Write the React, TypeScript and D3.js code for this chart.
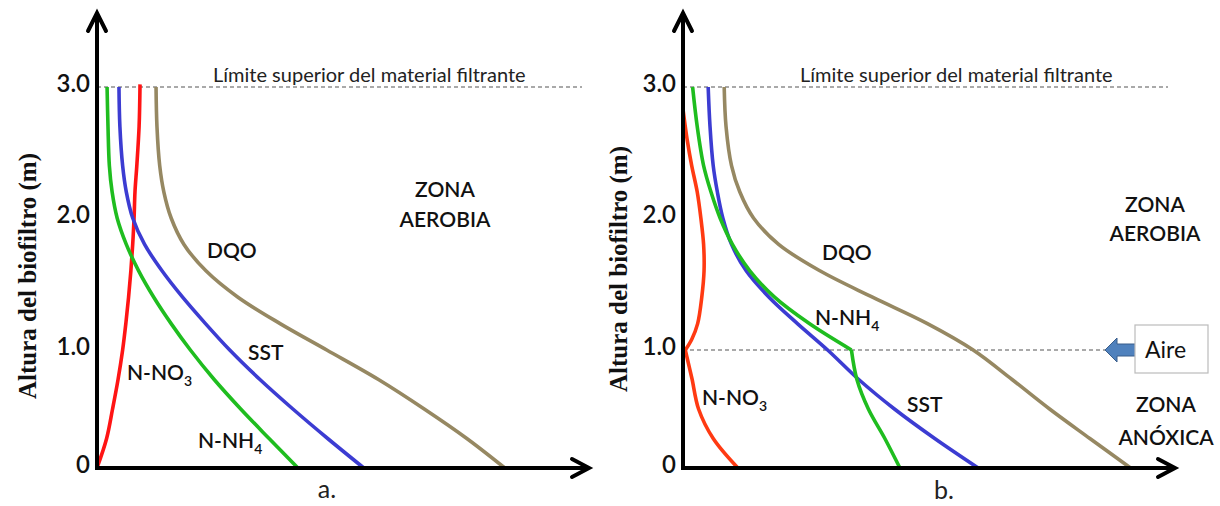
import React from "react";
import * as d3 from "d3";

const W = 1220;
const H = 506;

// Heights (m) at which curves were sampled
const HEIGHTS = [3.0, 2.7, 2.4, 2.2, 2.0, 1.8, 1.6, 1.4, 1.2, 1.0, 0.75, 0.5, 0.25, 0];
const RED_A_HEIGHTS = [3.02, 2.7, 2.4, 2.2, 2.0, 1.8, 1.6, 1.4, 1.2, 1.0, 0.75, 0.5, 0.25, 0];
const RED_B_HEIGHTS = [2.83, 2.6, 2.4, 2.2, 2.0, 1.8, 1.6, 1.4, 1.2, 1.08, 1.0, 0.85, 0.75, 0.5, 0.25, 0];

// Panel a (concentrations, arbitrary units)
const A_NNH4 = [0.22, 0.24, 0.27, 0.33, 0.44, 0.64, 0.91, 1.24, 1.62, 2.04, 2.56, 3.14, 3.76, 4.39];
const A_SST = [0.48, 0.5, 0.56, 0.64, 0.78, 1.04, 1.42, 1.87, 2.37, 2.9, 3.56, 4.28, 5.04, 5.83];
const A_NNO3 = [0.94, 0.92, 0.87, 0.83, 0.81, 0.78, 0.74, 0.69, 0.63, 0.56, 0.46, 0.34, 0.21, 0];
const A_DQO = [1.29, 1.31, 1.37, 1.46, 1.62, 1.9, 2.38, 3.08, 4.0, 5.02, 6.15, 7.15, 8.08, 8.91];

// Panel b
const B_NNH4 = [0.21, 0.31, 0.45, 0.61, 0.81, 1.08, 1.46, 2.0, 2.76, 3.68, 3.8, 4.05, 4.41, 4.74];
const B_SST = [0.55, 0.59, 0.66, 0.75, 0.87, 1.06, 1.38, 1.88, 2.5, 3.16, 3.84, 4.62, 5.5, 6.45];
const B_NNO3 = [0, 0.09, 0.19, 0.31, 0.39, 0.45, 0.46, 0.41, 0.32, 0.19, 0.05, 0.14, 0.2, 0.34, 0.66, 1.2];
const B_DQO = [0.9, 0.94, 1.06, 1.24, 1.54, 2.09, 2.99, 4.14, 5.34, 6.34, 7.19, 8.01, 8.89, 9.78];

const Y_TICKS = [0, 1, 2, 3];
const Y_TICK_LABELS = ["0", "1.0", "2.0", "3.0"];
const AIRE_HEIGHT = 1.0;

const C_GREEN = "#1fbd1f";
const C_BLUE = "#3c3cd2";
const C_RED_A = "#ff1414";
const C_RED_B = "#ff3a12";
const C_DQO = "#968862";

const LABEL_FONT = "Lato, 'Open Sans', sans-serif";

const yScale = d3.scaleLinear().domain([0, 1, 2, 3]).range([468, 350, 218, 87]);

type Series = { h: number[]; v: number[]; color: string; kink?: number };

function makeX(axisX: number) {
  return d3.scaleLinear().domain([0, 10.75]).range([axisX, axisX + 492]);
}

function Curve({ s, x }: { s: Series; x: d3.ScaleLinear<number, number> }) {
  const pts: [number, number][] = s.h.map((h, i) => [h, s.v[i]]);
  const line = d3
    .line<[number, number]>()
    .x((d) => x(d[1]))
    .y((d) => yScale(d[0]))
    .curve(d3.curveCatmullRom.alpha(0.5));
  const segs: [number, number][][] = [];
  if (s.kink !== undefined) {
    segs.push(pts.filter((p) => p[0] >= s.kink!));
    segs.push(pts.filter((p) => p[0] <= s.kink!));
  } else segs.push(pts);
  return (
    <g>
      {segs.map((seg, i) => (
        <path
          key={i}
          d={line(seg) || ""}
          fill="none"
          stroke={s.color}
          strokeWidth={3.6}
          strokeLinecap="butt"
          strokeLinejoin="round"
        />
      ))}
    </g>
  );
}

function Axes({ axisX, titleX, titleY }: { axisX: number; titleX: number; titleY: number }) {
  const x = makeX(axisX);
  const x0 = x(0);
  const xEnd = x(10.75);
  const yBase = yScale(0);
  const yTop = 13;
  return (
    <g>
      <line x1={x0} y1={yBase + 2} x2={x0} y2={yTop + 2} stroke="#000" strokeWidth={4} />
      <polyline
        points={`${x0 - 9},${yTop + 18} ${x0},${yTop} ${x0 + 9},${yTop + 18}`}
        fill="none"
        stroke="#000"
        strokeWidth={4}
        strokeLinecap="round"
        strokeLinejoin="miter"
      />
      <line x1={x0 - 2} y1={yBase} x2={xEnd - 2} y2={yBase} stroke="#000" strokeWidth={4} />
      <polyline
        points={`${xEnd - 17},${yBase - 9} ${xEnd},${yBase} ${xEnd - 17},${yBase + 9}`}
        fill="none"
        stroke="#000"
        strokeWidth={4}
        strokeLinecap="round"
      />
      {Y_TICKS.map((t, i) => (
        <text
          key={t}
          x={x0 - 7}
          y={yScale(t) + 5}
          textAnchor="end"
          fontFamily={LABEL_FONT}
          fontWeight={600}
          fontSize={24}
          fill="#111"
        >
          {Y_TICK_LABELS[i]}
        </text>
      ))}
      <text
        transform={`translate(${titleX},${titleY}) rotate(-90)`}
        textAnchor="middle"
        fontFamily="'Liberation Serif', 'Times New Roman', serif"
        fontWeight="bold"
        fontSize={25}
        fill="#111"
      >
        Altura del biofiltro (m)
      </text>
    </g>
  );
}

function Label({ x, y, text, sub, anchor = "start" }: { x: number; y: number; text: string; sub?: string; anchor?: string }) {
  return (
    <text x={x} y={y} textAnchor={anchor as any} fontFamily={LABEL_FONT} fontWeight={600} fontSize={21} fill="#111">
      {text}
      {sub && (
        <tspan fontSize={14} dy={6}>
          {sub}
        </tspan>
      )}
    </text>
  );
}

export default function App() {
  const xa = makeX(97);
  const xb = makeX(683);

  const seriesA: Series[] = [
    { h: RED_A_HEIGHTS, v: A_NNO3, color: C_RED_A },
    { h: HEIGHTS, v: A_NNH4, color: C_GREEN },
    { h: HEIGHTS, v: A_SST, color: C_BLUE },
    { h: HEIGHTS, v: A_DQO, color: C_DQO },
  ];
  const seriesB: Series[] = [
    { h: RED_B_HEIGHTS, v: B_NNO3, color: C_RED_B, kink: AIRE_HEIGHT },
    { h: HEIGHTS, v: B_SST, color: C_BLUE },
    { h: HEIGHTS, v: B_NNH4, color: C_GREEN, kink: AIRE_HEIGHT },
    { h: HEIGHTS, v: B_DQO, color: C_DQO },
  ];

  const yTopLine = yScale(3);
  const yAire = yScale(AIRE_HEIGHT);

  return (
    <svg
      width={W}
      height={H}
      viewBox={`0 0 ${W} ${H}`}
      style={{ position: "absolute", left: 0, top: 0, display: "block", background: "#fff" }}
    >
      <rect x={0} y={0} width={W} height={H} fill="#fff" />

      {/* dashed top limits */}
      <line x1={xa(0)} y1={yTopLine} x2={582} y2={yTopLine} stroke="#555" strokeWidth={1.2} strokeDasharray="4,3" />
      <line x1={xb(0)} y1={yTopLine} x2={1168} y2={yTopLine} stroke="#555" strokeWidth={1.2} strokeDasharray="4,3" />
      <text x={213} y={82} fontFamily={LABEL_FONT} fontSize={20} fill="#222">
        Límite superior del material filtrante
      </text>
      <text x={800} y={82} fontFamily={LABEL_FONT} fontSize={20} fill="#222">
        Límite superior del material filtrante
      </text>

      {/* aire line */}
      <line x1={xb(0)} y1={yAire} x2={1105} y2={yAire} stroke="#555" strokeWidth={1.2} strokeDasharray="4,3" />

      {/* panel a */}
      {seriesA.map((s, i) => (
        <Curve key={i} s={s} x={xa} />
      ))}
      <Axes axisX={97} titleX={36} titleY={276} />

      {/* panel b */}
      {seriesB.map((s, i) => (
        <Curve key={i} s={s} x={xb} />
      ))}
      <Axes axisX={683} titleX={627} titleY={269} />

      {/* labels panel a */}
      <Label x={445} y={197} text="ZONA" anchor="middle" />
      <Label x={445} y={227} text="AEROBIA" anchor="middle" />
      <Label x={207} y={258} text="DQO" />
      <Label x={248} y={360} text="SST" />
      <Label x={127} y={380} text="N-NO" sub="3" />
      <Label x={198} y={448} text="N-NH" sub="4" />
      <text x={327} y={498} textAnchor="middle" fontFamily={LABEL_FONT} fontSize={25} fill="#222">
        a.
      </text>

      {/* labels panel b */}
      <Label x={1155} y={212} text="ZONA" anchor="middle" />
      <Label x={1155} y={241} text="AEROBIA" anchor="middle" />
      <Label x={822} y={260} text="DQO" />
      <Label x={815} y={325} text="N-NH" sub="4" />
      <Label x={907} y={412} text="SST" />
      <Label x={702} y={405} text="N-NO" sub="3" />
      <Label x={1166} y={412} text="ZONA" anchor="middle" />
      <Label x={1166} y={445} text="ANÓXICA" anchor="middle" />
      <text x={944} y={499} textAnchor="middle" fontFamily={LABEL_FONT} fontSize={25} fill="#222">
        b.
      </text>

      {/* aire arrow & box */}
      <path
        d="M1105,350 L1117,338 L1117,344 L1137,344 L1137,356 L1117,356 L1117,362 Z"
        fill="#4f81bd"
        stroke="#385d8a"
        strokeWidth={1}
      />
      <rect x={1135} y={325} width={73} height={48} fill="#fff" stroke="#bbb" strokeWidth={1.2} />
      <text x={1145} y={358} fontFamily={LABEL_FONT} fontSize={23} fill="#111">
        Aire
      </text>
    </svg>
  );
}
